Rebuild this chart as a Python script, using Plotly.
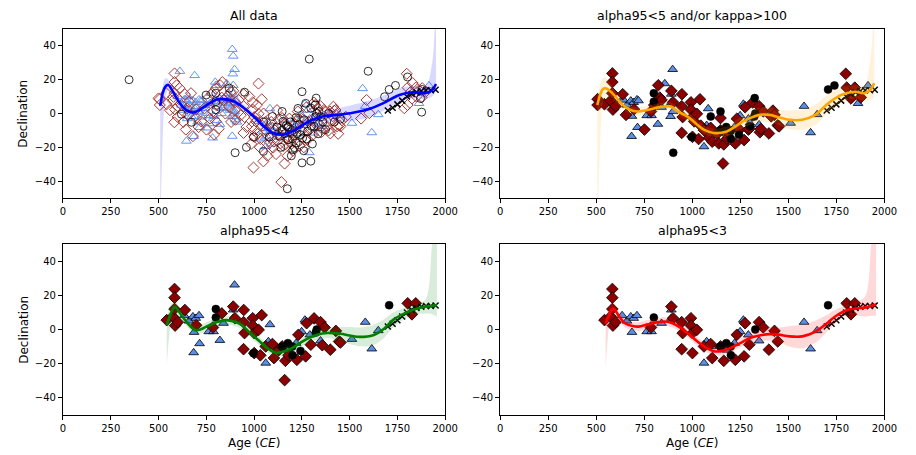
import numpy as np
import plotly.graph_objects as go

# ---------------- archaeomagnetic declination data ----------------
# (age CE, declination deg, alpha95 deg)
circ_age = [346, 620, 672, 749, 800, 800, 800, 870, 901, 950, 960, 997, 1049, 1050, 1080, 1096, 1120,
            1135, 1140, 1147, 1147, 1152, 1160, 1169, 1174, 1177, 1177, 1190, 1195, 1200, 1201, 1203,
            1212, 1219, 1220, 1225, 1230, 1237, 1243, 1251, 1251, 1254, 1260, 1263, 1270, 1275, 1280,
            1289, 1297, 1297, 1300, 1305, 1314, 1320, 1323, 1325, 1328, 1335, 1340, 1350, 1360, 1374,
            1390, 1420, 1452, 1597, 1683, 1707, 1740, 1803, 1871, 1877, 1880]
circ_dec = [20.0, -0.4, -5.2, 10.9, 12.0, 7.0, 2.2, 15.0, -23.2, 12.6, -20.0, -13.9, -22.4, -5.0, -14.0, -1.8, -8.0,
            -13.5, -20.0, 1.2, -10.0, -4.7, -12.0, -7.2, -44.5, -8.0, -15.5, -5.0, -25.0, -10.0, -15.0, -21.4,
            -20.2, -2.5, -17.4, -12.0, 3.0, -6.6, -12.5, 12.9, -29.2, -14.5, -22.0, -3.7, 6.0, -15.0, -10.6,
            32.2, 3.2, -28.2, -7.6, -18.0, -7.6, 5.0, -1.8, 9.1, 0.0, -12.0, 1.2, -2.0, -5.0, -9.5,
            0.0, -5.0, -3.3, 25.0, 9.9, 14.2, 16.6, 21.6, 8.9, 0.8, 14.2]
circ_a95 = [8, 7, 7, 6, 3.6, 2.5, 6, 6, 4.5, 6, 7, 3.5, 7, 6, 6, 4.6, 6,
            6, 6, 4.4, 2.4, 6, 6, 6, 9, 2.6, 6, 6, 7, 2.7, 2.8, 7,
            7, 6, 6, 6, 6, 6, 3.4, 7, 8, 6, 7, 6, 6, 6, 6,
            9, 6, 8, 4.3, 6, 6, 6, 3.3, 4.2, 2.6, 6, 6, 6, 6, 6,
            6, 6, 6, 7, 6, 2.5, 4.5, 6, 6, 6, 6]

tri_age = [600, 612, 620, 625, 635, 643, 646, 650, 655, 660, 663, 668, 672, 680, 684, 686, 689, 689, 695,
           700, 705, 710, 712, 715, 720, 725, 732, 740, 745, 749, 757, 763, 765, 770, 775, 783, 788, 792,
           797, 800, 805, 809, 815, 820, 821, 830, 834, 840, 845, 850, 852, 857, 860, 865, 869, 875, 878,
           880, 886, 886, 886, 887, 889, 891, 891, 891, 891, 895, 898, 900, 903, 905, 910,
           1023, 1040, 1049, 1057, 1061, 1061, 1066, 1070, 1075, 1083, 1083, 1090, 1100, 1110, 1130, 1160,
           1177, 1180, 1200, 1215, 1220, 1220, 1240, 1246, 1249, 1260, 1266, 1271, 1280, 1289, 1292, 1300,
           1314, 1320, 1330, 1340, 1348, 1357, 1450, 1512, 1568, 1582, 1616, 1650, 1863, 1915]
tri_dec = [10.0, 25.0, 5.0, 2.0, 8.2, 8.0, -16.3, -3.0, 10.0, 5.0, 8.0, 4.0, -1.7, 7.5, -13.5, -1.6, 22.5, 3.0, 6.6,
           4.0, -5.0, 1.0, 8.2, -8.2, 7.6, -2.0, 8.0, 3.0, 5.0, 0.2, -8.5, -1.2, -6.0, 6.0, 12.0, -14.4, -1.2, -1.7,
           18.6, 16.7, -4.0, 4.0, 7.0, 9.0, -6.3, 0.0, 3.1, 3.7, 5.0, 10.0, 16.7, 17.7, 6.0, 12.0, 8.0, 2.0, 6.0,
           9.0, 38.0, 2.1, -13.4, -1.7, 23.5, 34.0, 16.7, 11.5, 6.6, 0.2, 26.1, 1.2, -3.7, 8.0, -5.0,
           -4.7, -15.0, -10.5, -14.4, -8.9, -19.6, -13.4, -5.0, -7.0, 2.9, -7.6, -18.0, -10.0, -8.0, -14.0, -3.7,
           -7.6, -12.0, -5.0, -9.5, -8.0, -3.7, -12.0, -0.8, -1.2, -7.0, 5.6, -4.7, 2.0, -23.1, -3.1, -5.6,
           -11.5, -2.0, -9.0, -5.6, -6.6, -7.6, -1.0, -5.7, 14.8, 4.3, -11.3, -0.6, 6.0, 16.5]
tri_a95 = [6, 7, 6, 6, 2.5, 4.5, 7, 6, 6, 2.6, 6, 6, 6, 2.7, 3.5, 2.6, 7, 6, 2.4,
           6, 6, 6, 2.5, 3.6, 4.4, 6, 6, 6, 6, 6, 6, 2.6, 6, 6, 6, 7, 2.7, 6,
           6, 6, 6, 6, 6, 6, 3.6, 6, 6, 2.5, 6, 6, 6, 4.5, 6, 6, 6, 6, 6,
           6, 9, 6, 7, 4.4, 7, 8, 6, 2.6, 2.4, 6, 3.7, 4.3, 6, 6, 6,
           6, 6, 6, 6, 2.6, 2.7, 6, 6, 2.5, 3.5, 6, 6, 2.8, 6, 6, 6,
           6, 2.8, 6, 4.4, 2.7, 6, 6, 6, 2.6, 6, 2.5, 6, 6, 7, 2.6, 4.5,
           6, 6, 6, 6, 2.6, 6, 6, 3.5, 6, 2.5, 2.6, 2.7, 4.5, 4.4]

dia_age = [500, 507, 507, 540, 543, 560, 575, 578, 583, 584, 584, 584, 587, 595, 600, 601, 610, 620, 630,
           638, 643, 650, 655, 660, 670, 680, 697, 697, 710, 724, 740, 751, 757, 770, 780, 785, 792, 800,
           800, 802, 815, 823, 831, 834, 840, 850, 860, 870, 878, 880, 891, 900, 900, 903, 920, 930, 945,
           945, 946, 950, 960, 975, 985, 989, 993, 993, 997, 1000, 1001, 1001, 1010, 1015, 1020, 1023,
           1024, 1030, 1033, 1040, 1044, 1049, 1050, 1060, 1061, 1070, 1083, 1087, 1090, 1096, 1100, 1104,
           1110, 1115, 1120, 1126, 1130, 1138, 1143, 1147, 1147, 1152, 1160, 1160, 1164, 1169, 1175, 1180,
           1180, 1185, 1189, 1195, 1200, 1203, 1210, 1224, 1229, 1232, 1237, 1246, 1250, 1254, 1260, 1270,
           1275, 1280, 1285, 1292, 1297, 1305, 1310, 1314, 1320, 1332, 1340, 1348, 1352, 1357, 1366, 1369,
           1383, 1390, 1397, 1399, 1400, 1411, 1415, 1420, 1426, 1428, 1434, 1440, 1445, 1452, 1460, 1480,
           1560, 1589, 1603, 1786, 1799, 1803, 1804, 1820, 1826, 1830, 1846, 1850, 1863, 1877, 1880, 1897]
dia_dec = [8.9, 8.5, 5.0, 12.0, 5.5, 2.0, 7.6, 9.9, -5.2, 23.7, 18.6, 12.0, 2.3, 16.7, -2.0, 4.3, 15.0, 5.0, -5.0,
           11.4, -9.5, 3.0, -0.8, 7.0, 12.0, -13.4, 2.5, -2.7, -8.0, -4.7, 3.0, -9.5, 8.9, -3.0, 12.0, 1.2, -12.4, -4.7,
           14.8, 5.0, -9.0, 16.7, 9.4, 18.6, 8.0, 0.0, 9.9, 4.0, 12.8, -5.0, 13.4, 6.6, 2.0, -3.7, 8.0, -1.0, 4.3,
           -11.5, 11.4, -2.1, -8.0, 10.0, -18.0, -7.6, 6.6, 2.3, -32.0, -10.0, -2.1, -13.8, -4.7, 5.0, -12.0, 17.7,
           -0.2, -20.0, -15.1, 8.4, -7.2, -28.3, 0.0, -5.0, -9.9, -25.0, -17.3, -14.4, -5.0, -8.5, -20.2, -16.7,
           -10.0, -24.0, 2.0, -3.7, -12.0, -17.7, -40.6, -9.9, -2.7, -19.2, -29.6, -6.0, -18.3, -14.4, -25.0, -15.0,
           -8.0, -3.0, -11.5, -18.0, -12.0, -22.1, -6.0, -17.7, 1.2, -3.1, -19.2, -9.5, -10.0, -3.7, -20.0, -15.7,
           3.7, -15.3, -5.0, -9.5, -8.9, -13.0, -3.0, 6.5, 5.0, 3.1, -6.0, 4.3, -11.1, -9.2, 2.1, 1.2,
           -7.6, -10.0, 1.2, -11.8, -4.0, -1.7, 4.0, 1.7, 2.1, -0.8, -7.6, -12.0, -7.0, -7.6, -4.0, -2.0,
           -3.0, 8.0, 0.2, 3.1, 23.5, 5.0, 15.3, 12.8, 8.9, 18.0, 15.3, 10.0, 13.8, 9.5, 15.0, 12.8]
dia_a95 = [6, 4.5, 4.5, 6, 2.5, 6, 2.6, 6, 6, 2.4, 2.5, 2.6, 2.7, 6, 6, 2.8, 6, 6, 6,
           3.5, 6, 6, 4.5, 6, 6, 6, 3.6, 6, 6, 6, 6, 4.5, 6, 6, 6, 2.6, 6, 6,
           6, 4.4, 6, 4.5, 3.5, 6, 4.4, 6, 6, 6, 6, 6, 2.5, 2.6, 6, 6, 6, 6, 2.6,
           2.5, 3.5, 2.7, 6, 6, 7, 6, 2.6, 2.7, 8, 6, 2.6, 2.5, 4.5, 6, 6, 6,
           2.6, 7, 3.5, 3.6, 4.5, 7, 6, 6, 2.5, 7, 6, 4.4, 6, 2.6, 6, 2.7,
           6, 7, 6, 6, 3.5, 4.5, 8, 2.6, 4.4, 6, 3.6, 6, 2.5, 6, 7, 3.5,
           6, 6, 4.5, 6, 6, 6, 6, 2.6, 6, 2.7, 6, 4.4, 6, 6, 7, 2.6,
           2.5, 6, 6, 4.5, 2.7, 6, 6, 3.5, 6, 6, 6, 2.6, 4.4, 3.6, 6, 2.7,
           6, 6, 6, 2.6, 6, 4.5, 6, 4.4, 6, 2.6, 6, 6, 2.7, 3.5, 6, 6,
           6, 6, 6, 6, 4.5, 6, 2.5, 6, 2.6, 6, 2.6, 6, 6, 4.5, 6, 6]

# historical (observatory-era) declinations
hist_age = [1700, 1725, 1750, 1775, 1800, 1825, 1850, 1875, 1900, 1925, 1950]
hist_dec = [1.8, 3.4, 5.4, 7.6, 10.0, 11.5, 12.6, 13.3, 13.7, 13.8, 14.0]

# ---------------- fitted curves with confidence envelopes ----------------
fit_all_age = [509, 522, 535, 552, 570, 590, 612, 645, 680, 720, 760, 800, 843, 895, 950, 1000, 1050,
               1100, 1150, 1200, 1237, 1300, 1357, 1434, 1503, 1589, 1674, 1760, 1829, 1897, 1932, 1952]
fit_all_dec = [4.5, 12.0, 15.8, 16.9, 14.0, 10.0, 6.1, 2.0, 0.6, 2.5, 5.5, 8.1, 8.5, 7.1, 3.0, -2.0, -7.5,
               -11.5, -12.5, -10.5, -8.0, -4.0, -1.8, -0.8, 0.2, 2.2, 6.0, 11.0, 12.6, 12.0, 13.9, 17.5]
fit_all_lo = [-70, -15, 9.0, 14.0, 11.5, 7.5, 3.8, -0.3, -1.7, 0.3, 3.3, 5.9, 6.3, 4.9, 0.8, -4.2, -9.7,
              -13.7, -14.7, -12.7, -10.3, -6.7, -4.8, -4.5, -4.3, -2.8, 1.5, 7.0, 9.0, 8.5, 10.0, 13.0]
fit_all_hi = [6.0, 16.0, 21.0, 20.0, 16.5, 12.5, 8.4, 4.3, 2.9, 4.7, 7.7, 10.3, 10.7, 9.3, 5.2, 0.2, -5.3,
              -9.3, -10.3, -8.3, -5.7, -1.3, 1.2, 2.9, 4.7, 7.2, 10.5, 15.0, 16.2, 15.5, 30.0, 75.0]

fit5_age = [506, 520, 535, 549, 575, 600, 630, 660, 690, 720, 755, 788, 820, 856, 890, 924, 975, 1020,
            1060, 1112, 1180, 1220, 1265, 1310, 1350, 1401, 1436, 1504, 1572, 1640, 1708, 1776, 1845,
            1896, 1930, 1947]
fit5_dec = [5.0, 11.0, 14.5, 14.9, 13.0, 10.0, 6.0, 3.2, 1.6, 1.2, 1.8, 2.6, 3.6, 4.1, 4.1, 1.2, -1.8, -6.0,
            -9.6, -11.5, -10.6, -8.0, -4.7, -2.3, -0.8, -0.8, -1.8, -3.7, -3.7, -0.8, 6.1, 11.0, 12.9,
            12.0, 14.4, 17.9]
fit5_lo = [-70, -20, 7.0, 9.5, 9.5, 7.3, 3.5, 0.8, -0.8, -1.2, -0.6, 0.2, 1.2, 1.7, 1.7, -1.2, -4.3, -8.5,
           -12.1, -14.0, -13.6, -11.5, -8.7, -6.3, -5.0, -5.3, -6.3, -9.2, -9.7, -6.8, 0.6, 6.5, 8.9,
           7.5, 8.0, 10.0]
fit5_hi = [8.0, 17.0, 21.0, 21.0, 17.5, 12.7, 8.5, 5.6, 4.0, 3.6, 4.2, 5.0, 6.0, 6.5, 6.5, 3.6, 0.7, -3.5,
           -7.1, -9.0, -7.6, -4.5, -0.7, 1.7, 3.4, 3.7, 2.7, 1.8, 2.3, 5.2, 11.6, 15.5, 16.9, 16.5, 35.0, 75.0]

fit4_age = [543, 560, 575, 586, 610, 646, 697, 766, 810, 852, 900, 937, 980, 1023, 1070, 1109, 1150,
            1194, 1240, 1280, 1330, 1383, 1452, 1500, 1554, 1623, 1680, 1726, 1780, 1829, 1897, 1930, 1957]
fit4_dec = [2.5, 8.0, 12.0, 13.3, 10.0, 4.5, -0.4, 2.5, 4.5, 5.5, 4.5, 2.5, -2.0, -6.3, -11.0, -13.5, -13.0,
            -11.2, -8.0, -5.3, -3.0, -2.0, -2.5, -3.5, -4.3, -3.3, 0.5, 5.5, 9.0, 11.4, 13.3, 13.8, 14.3]
fit4_lo = [-21, 0.0, 8.0, 10.0, 7.5, 2.0, -2.9, 0.0, 2.0, 3.0, 2.0, 0.0, -4.5, -8.8, -13.5, -16.0, -15.5,
           -13.7, -10.5, -8.0, -6.0, -5.0, -6.5, -8.5, -9.8, -9.3, -5.0, 1.0, 5.5, 8.4, 9.3, 9.0, 7.5]
fit4_hi = [6.0, 14.0, 16.0, 17.0, 12.5, 7.0, 2.1, 5.0, 7.0, 8.0, 7.0, 5.0, 0.5, -3.8, -8.5, -11.0, -10.5,
           -8.7, -5.5, -2.6, 0.0, 1.0, 1.5, 1.5, 1.2, 2.7, 6.0, 10.0, 12.5, 14.4, 17.5, 48.0, 90.0]

fit3_age = [549, 565, 580, 592, 620, 652, 690, 720, 770, 823, 857, 900, 942, 985, 1027, 1070, 1113, 1155,
            1198, 1250, 1300, 1350, 1402, 1450, 1505, 1573, 1642, 1700, 1744, 1812, 1898, 1930, 1957]
fit3_dec = [3.5, 8.0, 11.5, 12.0, 7.5, 3.5, 2.0, 1.7, 3.0, 4.3, 4.7, 3.5, 0.8, -3.0, -7.0, -10.5, -12.8,
            -12.5, -10.9, -8.0, -5.0, -3.5, -2.7, -3.0, -4.0, -4.0, -1.2, 3.5, 7.6, 11.5, 12.8, 13.8, 14.7]
fit3_lo = [-22.5, 0.0, 7.0, 8.0, 5.0, 1.0, -0.5, -0.8, 0.5, 1.8, 2.2, 1.0, -1.7, -5.5, -9.5, -13.0, -15.3,
           -15.0, -13.4, -10.5, -7.8, -6.8, -6.5, -7.0, -10.0, -11.0, -7.7, -1.5, 3.6, 8.5, 7.5, 8.0, 8.0]
fit3_hi = [6.0, 13.0, 15.0, 15.5, 10.0, 6.0, 4.5, 4.2, 5.5, 6.8, 7.2, 6.0, 3.3, -0.5, -4.5, -8.0, -10.3,
           -10.0, -8.4, -5.5, -2.2, -0.2, 1.1, 1.0, 2.0, 3.0, 5.3, 8.5, 11.6, 14.5, 19.0, 48.0, 90.0]

panel_titles = ["All data", "alpha95<5 and/or kappa>100", "alpha95<4", "alpha95<3"]
panel_limits = [None, 5.0, 4.0, 3.0]
fits = [(fit_all_age, fit_all_dec, fit_all_lo, fit_all_hi),
        (fit5_age, fit5_dec, fit5_lo, fit5_hi),
        (fit4_age, fit4_dec, fit4_lo, fit4_hi),
        (fit3_age, fit3_dec, fit3_lo, fit3_hi)]
line_colors = ["#0000ff", "#ffa500", "#008000", "#ff0000"]
band_colors = ["rgba(0,0,255,0.15)", "rgba(255,165,0,0.15)", "rgba(0,128,0,0.15)", "rgba(255,0,0,0.15)"]

x_ticks = [0, 250, 500, 750, 1000, 1250, 1500, 1750, 2000]
y_ticks = [-40, -20, 0, 20, 40]

FONT = "DejaVu Sans"

# axes rectangles in paper coordinates (x0, x1, y0, y1)
domains = [((0.0666, 0.4913), (0.5648, 0.9363)),
           ((0.5524, 0.9793), (0.5648, 0.9363)),
           ((0.0666, 0.4913), (0.0879, 0.4637)),
           ((0.5524, 0.9793), (0.0879, 0.4637))]


def subset(age, dec, a95, limit):
    age = np.asarray(age, float)
    dec = np.asarray(dec, float)
    a95 = np.asarray(a95, float)
    if limit is None:
        return age, dec
    m = a95 < limit
    return age[m], dec[m]


fig = go.Figure()

for i in range(4):
    xa = "x" if i == 0 else f"x{i + 1}"
    ya = "y" if i == 0 else f"y{i + 1}"
    lim = panel_limits[i]
    ca, cd = subset(circ_age, circ_dec, circ_a95, lim)
    ta, td = subset(tri_age, tri_dec, tri_a95, lim)
    da, dd = subset(dia_age, dia_dec, dia_a95, lim)

    if lim is None:
        fig.add_trace(go.Scatter(x=ta, y=td, mode="markers", xaxis=xa, yaxis=ya, showlegend=False,
                                 marker=dict(symbol="triangle-up-open", size=8.5, color="#6495ed",
                                             line=dict(width=1, color="#6495ed"))))
        fig.add_trace(go.Scatter(x=da, y=dd, mode="markers", xaxis=xa, yaxis=ya, showlegend=False,
                                 marker=dict(symbol="diamond-open", size=8.5, color="#a83a36",
                                             line=dict(width=1, color="#a83a36"))))
        fig.add_trace(go.Scatter(x=ca, y=cd, mode="markers", xaxis=xa, yaxis=ya, showlegend=False,
                                 marker=dict(symbol="circle-open", size=8, color="rgba(0,0,0,0.8)",
                                             line=dict(width=1, color="rgba(0,0,0,0.8)"))))
    else:
        fig.add_trace(go.Scatter(x=ta, y=td, mode="markers", xaxis=xa, yaxis=ya, showlegend=False,
                                 marker=dict(symbol="triangle-up", size=8.5, color="#5b8ee6",
                                             line=dict(width=0.8, color="#000000"))))
        fig.add_trace(go.Scatter(x=da, y=dd, mode="markers", xaxis=xa, yaxis=ya, showlegend=False,
                                 marker=dict(symbol="diamond", size=9, color="#8b0000",
                                             line=dict(width=0.8, color="#000000"))))
        fig.add_trace(go.Scatter(x=ca, y=cd, mode="markers", xaxis=xa, yaxis=ya, showlegend=False,
                                 marker=dict(symbol="circle", size=8, color="#000000",
                                             line=dict(width=0.5, color="#000000"))))
    fig.add_trace(go.Scatter(x=hist_age, y=hist_dec, mode="markers", xaxis=xa, yaxis=ya, showlegend=False,
                             marker=dict(symbol="x-thin", size=6, color="#000000",
                                         line=dict(width=1.5, color="#000000"))))

    fa, fd, flo, fhi = fits[i]
    fig.add_trace(go.Scatter(x=fa, y=flo, mode="lines", xaxis=xa, yaxis=ya, showlegend=False,
                             line=dict(width=0, color=band_colors[i], shape="spline", smoothing=0.8),
                             hoverinfo="skip"))
    fig.add_trace(go.Scatter(x=fa, y=fhi, mode="lines", xaxis=xa, yaxis=ya, showlegend=False,
                             fill="tonexty", fillcolor=band_colors[i],
                             line=dict(width=0, color=band_colors[i], shape="spline", smoothing=0.8),
                             hoverinfo="skip"))
    fig.add_trace(go.Scatter(x=fa, y=fd, mode="lines", xaxis=xa, yaxis=ya, showlegend=False,
                             line=dict(width=2.6, color=line_colors[i], shape="spline", smoothing=1.0)))

axis_common = dict(showgrid=False, zeroline=False, showline=True, linecolor="black", linewidth=1,
                   mirror=True, ticks="outside", ticklen=4, tickcolor="black", tickwidth=1,
                   tickfont=dict(family=FONT, size=10, color="black"))

layout_axes = {}
for i, ((x0, x1), (y0, y1)) in enumerate(domains):
    sx = "" if i == 0 else str(i + 1)
    layout_axes[f"xaxis{sx}"] = dict(axis_common, domain=[x0, x1], range=[0, 2000], tickvals=x_ticks,
                                     anchor=f"y{sx}")
    layout_axes[f"yaxis{sx}"] = dict(axis_common, domain=[y0, y1], range=[-50, 50], tickvals=y_ticks,
                                     anchor=f"x{sx}")

annotations = []
for i, ((x0, x1), (y0, y1)) in enumerate(domains):
    annotations.append(dict(text=panel_titles[i], xref="paper", yref="paper", x=(x0 + x1) / 2,
                            y=y1 + 0.008, xanchor="center", yanchor="bottom", showarrow=False,
                            font=dict(family=FONT, size=12.5, color="black")))
for (x0, x1), (y0, y1) in [domains[0], domains[2]]:
    annotations.append(dict(text="Declination", xref="paper", yref="paper", x=0.0225, y=(y0 + y1) / 2,
                            xanchor="center", yanchor="middle", textangle=-90, showarrow=False,
                            font=dict(family=FONT, size=12, color="black")))
for (x0, x1), (y0, y1) in [domains[2], domains[3]]:
    annotations.append(dict(text="Age (<i>CE</i>)", xref="paper", yref="paper", x=(x0 + x1) / 2,
                            y=0.027, xanchor="center", yanchor="middle", showarrow=False,
                            font=dict(family=FONT, size=12, color="black")))

fig.update_layout(width=916, height=455, margin=dict(l=0, r=0, t=0, b=0),
                  paper_bgcolor="white", plot_bgcolor="white", showlegend=False,
                  annotations=annotations, **layout_axes)

fig.write_html("out.html")
